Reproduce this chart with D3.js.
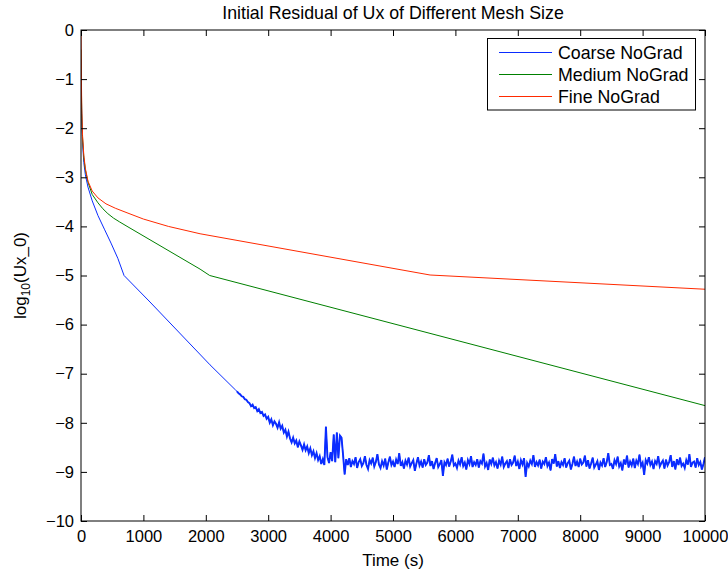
<!DOCTYPE html>
<html><head><meta charset="utf-8">
<script src="https://cdn.jsdelivr.net/npm/d3@7"></script>
<style>body{margin:0;background:#fff}svg{display:block}text{font-family:"Liberation Sans",Arial,Helvetica,sans-serif}</style>
</head><body>
<svg id="chart" width="728" height="574"></svg>
<script>
const seriesNames = ["Coarse NoGrad", "Medium NoGrad", "Fine NoGrad"];
const seriesColors = ["#0a2cff", "#008000", "#ff2a00"];
const xTicks = [0,1000,2000,3000,4000,5000,6000,7000,8000,9000,10000];
const yTicks = [0,-1,-2,-3,-4,-5,-6,-7,-8,-9,-10];

// Coarse: smooth part [time, log10 residual]
const coarseSmooth = [[0,-0.6],[5,-1.2],[12,-1.8],[25,-2.3],[45,-2.7],[70,-2.95],[112,-3.2],[180,-3.48],[272,-3.78],[380,-4.07],[481,-4.34],[590,-4.65],[690,-5.0],[1106,-5.54],[2068,-6.82],[2475,-7.33]];
// Coarse: noisy part, sampled every 25 s starting at 2500 s
const coarseNoisyStart = 2500, coarseNoisyStep = 25;
const coarseNoisy = [
-7.36,-7.40,-7.42,-7.46,-7.47,-7.52,-7.53,-7.58,-7.60,
-7.66,-7.63,-7.70,-7.68,-7.76,-7.72,-7.80,-7.78,-7.86,-7.83,-7.92,-7.88,
-8.00,-7.93,-8.05,-7.97,-8.02,-8.10,-7.99,-8.12,-8.06,-8.20,-8.14,-8.28,-8.18,-8.32,-8.40,-8.30,-8.42,-8.36,-8.50,-8.38,
-8.46,-8.55,-8.44,-8.56,-8.48,-8.62,-8.52,-8.66,-8.58,-8.72,-8.62,-8.76,-8.68,-8.84,-8.74,-8.86,-8.08,-8.70,-8.82,-8.60,
-8.78,-8.24,-8.80,-8.20,-8.72,-8.26,-8.30,-8.66,-9.05,-8.74,-8.86,-8.72,
-8.90,-8.78,-8.84,-8.70,-8.92,-8.80,-8.74,-8.88,-8.82,-8.68,
-8.86,-8.94,-8.76,-8.83,-8.71,-8.89,-8.80,-8.64,-8.85,-8.92,
-8.78,-8.87,-8.73,-8.95,-8.81,-8.69,-8.86,-8.79,-8.90,-8.75,
-8.84,-8.62,-8.88,-8.80,-8.93,-8.77,-8.85,-8.71,-8.89,-8.82,
-8.76,-8.98,-8.83,-8.70,-8.87,-8.79,-8.91,-8.74,-8.86,-8.81,
-8.66,-8.88,-8.78,-8.94,-8.82,-8.72,-8.90,-8.84,-8.76,-9.08,
-8.80,-8.86,-8.73,-8.89,-8.79,-8.65,-8.87,-8.83,-8.92,-8.77,
-8.85,-8.70,-8.88,-8.81,-8.95,-8.76,-8.84,-8.68,-8.90,-8.80,
-8.86,-8.74,-8.91,-8.78,-8.83,-8.63,-8.89,-8.82,-8.96,-8.75,
-8.84,-8.71,-8.87,-8.80,-8.93,-8.77,-8.85,-8.69,-8.90,-8.83,
-8.78,-8.92,-8.74,-8.86,-8.81,-8.67,-8.88,-8.79,-8.94,-8.76,
-8.85,-8.72,-9.10,-8.82,-8.89,-8.77,-8.84,-8.66,-8.90,-8.80,
-8.87,-8.75,-8.93,-8.79,-8.84,-8.70,-8.88,-8.81,-8.97,-8.74,
-8.83,-8.64,-8.89,-8.78,-8.92,-8.80,-8.86,-8.72,-8.91,-8.82,
-8.77,-8.95,-8.84,-8.69,-8.88,-8.79,-8.90,-8.73,-8.85,-8.81,
-8.67,-8.89,-8.76,-8.93,-8.83,-8.71,-8.91,-8.85,-8.78,-8.96,
-8.81,-8.87,-8.72,-8.90,-8.80,-8.62,-8.86,-8.84,-8.94,-8.76,
-8.84,-8.69,-8.89,-8.82,-8.97,-8.75,-8.85,-8.67,-8.91,-8.79,
-8.87,-8.73,-8.92,-8.77,-8.84,-8.65,-8.88,-8.81,-9.06,-8.76,
-8.83,-8.70,-8.86,-8.79,-8.94,-8.78,-8.84,-8.68,-8.89,-8.82,
-8.77,-8.93,-8.75,-8.87,-8.80,-8.66,-8.90,-8.78,-8.95,-8.74,
-8.86,-8.71,-8.88,-8.83,-8.92,-8.76,-8.85,-8.64,-8.90,-8.81,
-8.79,-8.91,-8.72,-8.86,-8.80,-8.95,-8.84,-8.70
];
const medium = [[0,-0.4],[5,-1.0],[12,-1.7],[25,-2.2],[45,-2.6],[70,-2.85],[112,-3.1],[180,-3.35],[272,-3.52],[350,-3.64],[430,-3.74],[520,-3.83],[620,-3.91],[753,-4.01],[1908,-4.87],[2063,-5.0],[10000,-7.65]];
const fine = [[0,0],[5,-0.8],[12,-1.6],[25,-2.15],[45,-2.55],[70,-2.82],[112,-3.08],[180,-3.28],[272,-3.42],[400,-3.54],[550,-3.63],[753,-3.73],[1000,-3.85],[1400,-4.0],[1908,-4.15],[5594,-4.99],[10000,-5.28]];

const coarseNoisyPts = coarseNoisy.map((v,i)=>[coarseNoisyStart + i*coarseNoisyStep, v]);
const coarse = coarseSmooth.concat(coarseNoisyPts);

const svg = d3.select("#chart");
const L = 81, R = 705, T = 30, B = 521;
const x = d3.scaleLinear().domain([0,10000]).range([L,R]);
const y = d3.scaleLinear().domain([-10,0]).range([B,T]);

svg.append("defs").append("clipPath").attr("id","clip")
  .append("rect").attr("x",L).attr("y",T).attr("width",R-L).attr("height",B-T);

const line = d3.line().x(d=>x(d[0])).y(d=>y(d[1]));
const g = svg.append("g").attr("clip-path","url(#clip)");
g.append("path").datum(coarse).attr("d",line).attr("fill","none")
  .attr("stroke",seriesColors[0]).attr("stroke-width",1);
// denser-looking noisy tail of the coarse series
g.append("path").datum(coarseNoisyPts).attr("d",line).attr("fill","none")
  .attr("stroke",seriesColors[0]).attr("stroke-width",1.9);
g.append("path").datum(medium).attr("d",line).attr("fill","none")
  .attr("stroke",seriesColors[1]).attr("stroke-width",1);
g.append("path").datum(fine).attr("d",line).attr("fill","none")
  .attr("stroke",seriesColors[2]).attr("stroke-width",1);

const fmt = v => v < 0 ? "\u2212" + Math.abs(v) : String(v);
const tickLen = 6;
const axB = svg.append("g").attr("transform",`translate(0,${B})`)
  .call(d3.axisBottom(x).tickValues(xTicks).tickSize(-tickLen).tickPadding(9).tickFormat(d=>d));
const axT = svg.append("g").attr("transform",`translate(0,${T})`)
  .call(d3.axisTop(x).tickValues(xTicks).tickSize(-tickLen).tickFormat(""));
const axL = svg.append("g").attr("transform",`translate(${L},0)`)
  .call(d3.axisLeft(y).tickValues(yTicks).tickSize(-tickLen).tickPadding(7).tickFormat(fmt));
const axR = svg.append("g").attr("transform",`translate(${R},0)`)
  .call(d3.axisRight(y).tickValues(yTicks).tickSize(-tickLen).tickFormat(""));
[axB,axT,axL,axR].forEach(a=>{
  a.select(".domain").remove();
  a.selectAll(".tick line").attr("stroke","#000");
  a.selectAll("text").attr("font-size",16.5).attr("fill","#000");
});
svg.append("rect").attr("x",L).attr("y",T).attr("width",R-L).attr("height",B-T)
  .attr("fill","none").attr("stroke","#000").attr("stroke-width",1);

svg.append("text").attr("x",(L+R)/2).attr("y",19).attr("text-anchor","middle")
  .attr("font-size",17.8).attr("fill","#000").text("Initial Residual of Ux of Different Mesh Size");
svg.append("text").attr("x",(L+R)/2).attr("y",566).attr("text-anchor","middle")
  .attr("font-size",17).attr("fill","#000").text("Time (s)");
const yl = svg.append("text").attr("transform",`translate(26,${(T+B)/2}) rotate(-90)`)
  .attr("text-anchor","middle").attr("font-size",17).attr("fill","#000");
yl.append("tspan").text("log");
yl.append("tspan").attr("font-size",12).attr("dy",4).text("10");
yl.append("tspan").attr("dy",-4).text("(Ux_0)");

const lg = svg.append("g");
lg.append("rect").attr("x",487.5).attr("y",38.5).attr("width",208).attr("height",71.5)
  .attr("fill","#fff").attr("stroke","#000").attr("stroke-width",1);
seriesNames.forEach((n,i)=>{
  const yy = 52.5 + i*22;
  lg.append("line").attr("x1",499).attr("x2",552).attr("y1",yy).attr("y2",yy)
    .attr("stroke",seriesColors[i]).attr("stroke-width",1);
  lg.append("text").attr("x",558).attr("y",yy+6).attr("font-size",17.8).attr("fill","#000").text(n);
});
</script>
</body></html>
